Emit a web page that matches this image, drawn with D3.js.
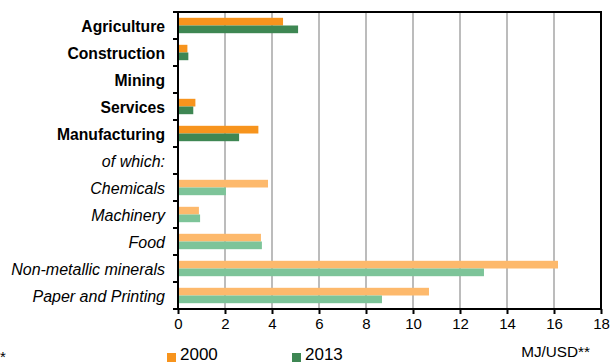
<!DOCTYPE html>
<html><head><meta charset="utf-8">
<script src="https://cdn.jsdelivr.net/npm/d3@7"></script>
<style>body{margin:0;background:#fff}svg{display:block}text{font-family:"Liberation Sans",Arial,sans-serif;fill:#000}</style>
</head><body><svg id="c" width="610" height="364"></svg>
<script>
const categories = ["Agriculture","Construction","Mining","Services","Manufacturing","of which:","Chemicals","Machinery","Food","Non-metallic minerals","Paper and Printing"];
const boldCats = ["Agriculture","Construction","Mining","Services","Manufacturing"];
const values2000 = [4.47,0.4,0,0.74,3.42,null,3.83,0.89,3.53,16.17,10.68];
const values2013 = [5.11,0.44,0,0.65,2.6,null,2.04,0.94,3.57,13.02,8.68];
const xTicks = [0,2,4,6,8,10,12,14,16,18];
const seriesNames = ["2000","2013"];

const svg = d3.select("#c");
const m = {l:178, r:601, t:12, b:309};
const x = d3.scaleLinear().domain([0,18]).range([m.l,m.r]);
const y = d3.scaleBand().domain(categories).range([m.t,m.b]).paddingInner(0.43).paddingOuter(0.215);
const ys = d3.scaleBand().domain(seriesNames).range([0,y.bandwidth()]);
const yb = d3.scaleBand().domain(categories).range([m.t,m.b]);

const colDark = {"2000":"#F7941D","2013":"#3E8753"};
const colLight = {"2000":"#FDB96C","2013":"#7DC499"};

// grid
svg.append("g").selectAll("line").data(xTicks.filter(d=>d>0&&d<18)).join("line")
  .attr("x1",d=>x(d)).attr("x2",d=>x(d)).attr("y1",m.t).attr("y2",m.b)
  .attr("stroke","#a6a6a6").attr("stroke-width",1.5);

// bars
const rows = categories.map((c,i)=>({c, isBold: boldCats.includes(c), v:{"2000":values2000[i],"2013":values2013[i]}}));
rows.forEach(r=>{
  seriesNames.forEach(s=>{
    const v = r.v[s];
    if(v==null || v<=0) return;
    svg.append("rect").attr("x",x(0)).attr("y",y(r.c)+ys(s))
      .attr("width",x(v)-x(0)).attr("height",ys.bandwidth())
      .attr("fill", r.isBold?colDark[s]:colLight[s]);
  });
});

// frame
svg.append("rect").attr("x",m.l).attr("y",m.t).attr("width",m.r-m.l).attr("height",m.b-m.t)
  .attr("fill","none").attr("stroke","#000").attr("stroke-width",2);

// y ticks at band boundaries
const bounds = categories.map(c=>yb(c)).concat([m.b]);
svg.append("g").selectAll("line").data(bounds).join("line")
  .attr("x1",m.l-5).attr("x2",m.l).attr("y1",d=>d).attr("y2",d=>d)
  .attr("stroke","#000").attr("stroke-width",2);

// y labels
svg.append("g").selectAll("text").data(rows).join("text")
  .attr("x",165).attr("y",d=>yb(d.c)+yb.bandwidth()/2+1)
  .attr("text-anchor","end").attr("dominant-baseline","central")
  .style("font-size",d=>d.isBold?"15.7px":"16px")
  .style("font-weight",d=>d.isBold?"bold":"normal")
  .style("font-style",d=>d.isBold?"normal":"italic")
  .text(d=>d.c);

// x axis
const xa = svg.append("g").attr("transform",`translate(0,${m.b})`)
  .call(d3.axisBottom(x).tickValues(xTicks).tickSize(5).tickPadding(4));
xa.select(".domain").remove();
xa.selectAll("line").attr("stroke","#000").attr("stroke-width",2);
xa.selectAll("text").style("font-size","15px").attr("font-family",null);

// legend
const leg = [{s:"2000",x:167},{s:"2013",x:292}];
leg.forEach(l=>{
  svg.append("rect").attr("x",l.x).attr("y",353).attr("width",9).attr("height",9).attr("fill",colDark[l.s]);
  svg.append("text").attr("x",l.x+13).attr("y",360).style("font-size","17px").text(l.s);
});
svg.append("text").attr("x",0).attr("y",362).style("font-size","15px").text("*");
svg.append("text").attr("x",590).attr("y",357).attr("text-anchor","end").style("font-size","15.3px").text("MJ/USD**");
</script></body></html>
